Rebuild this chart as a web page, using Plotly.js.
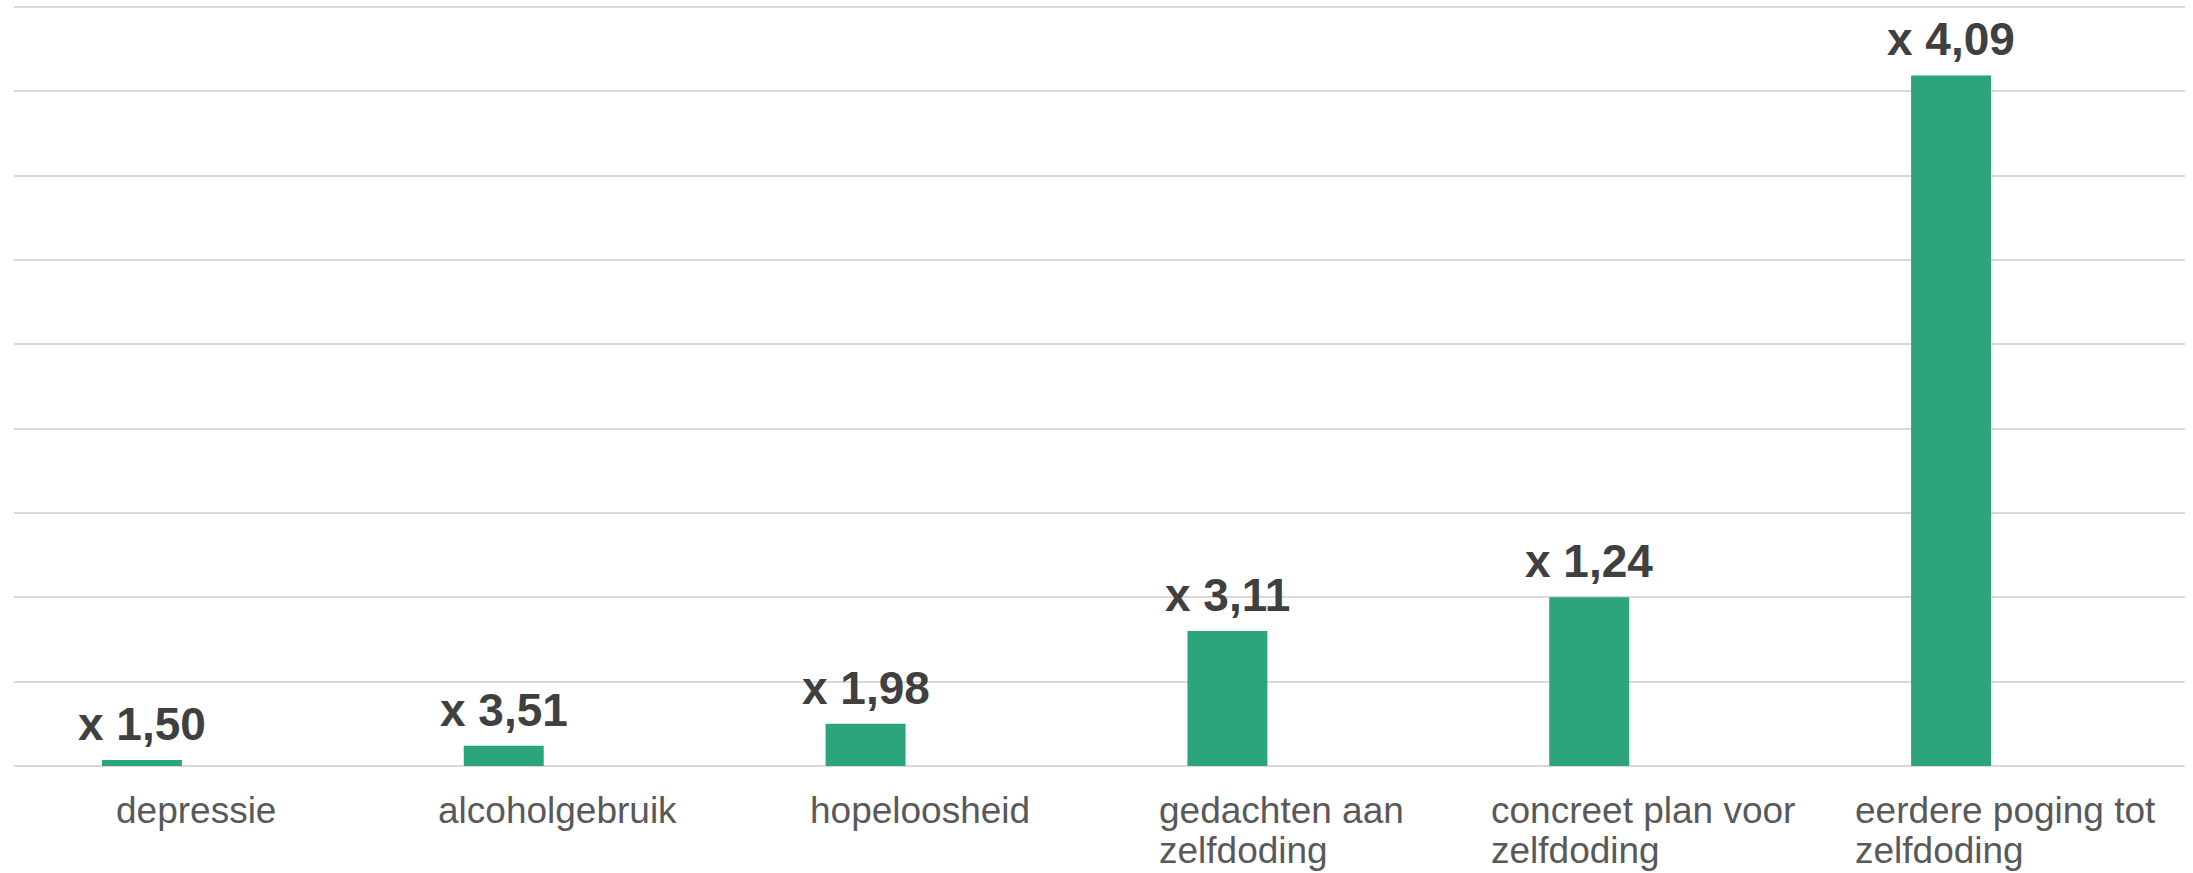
<!DOCTYPE html>
<html>
<head>
<meta charset="utf-8">
<script src="https://cdn.plot.ly/plotly-3.0.1.min.js"></script>
<style>
  html, body { margin: 0; padding: 0; background: #ffffff; }
  #chart { width: 2193px; height: 873px; }
</style>
</head>
<body>
<div id="chart"></div>
<script>
// Risk factors (x-axis categories); "<br>" marks a line break
const categories = [
  "depressie",
  "alcoholgebruik",
  "hopeloosheid",
  "gedachten aan<br>zelfdoding",
  "concreet plan voor<br>zelfdoding",
  "eerdere poging tot<br>zelfdoding"
];

// Bar heights
const barValues = [0.07, 0.24, 0.50, 1.60, 2.00, 8.19];

// Multiplier shown above each bar
const ratioLabels = ["x 1,50", "x 3,51", "x 1,98", "x 3,11", "x 1,24", "x 4,09"];

const BAR_WIDTH = 0.221;   // in category units
const BAR_OFFSET = -0.257; // bar sits left of the category centre
const FONT = "Arial, 'Liberation Sans', sans-serif";
const CAT_FONT_SIZE = 37;
const CAT_LINE_STEP = 40;  // px between lines of a category name
const CAT_FIRST_SHIFT = -23;

const bars = {
  type: "bar",
  x: categories,
  y: barValues,
  width: BAR_WIDTH,
  offset: BAR_OFFSET,
  marker: { color: "#2ca57a", line: { width: 0 } },
  hoverinfo: "x+y"
};

const annotations = [];

// multiplier labels centred above the bars
ratioLabels.forEach((txt, i) => {
  annotations.push({
    xref: "x", yref: "y",
    x: i + BAR_OFFSET + BAR_WIDTH / 2,
    y: barValues[i],
    text: txt,
    showarrow: false,
    xanchor: "center",
    yanchor: "bottom",
    yshift: 8,
    font: { family: FONT, size: 46, color: "#404040", weight: "bold" }
  });
});

// category names: each block is centred on its category, its lines left-aligned
const measure = document.createElement("canvas").getContext("2d");
measure.font = CAT_FONT_SIZE + "px " + FONT;
categories.forEach((name, i) => {
  const lines = name.split("<br>");
  const blockWidth = Math.max(...lines.map(l => measure.measureText(l).width));
  lines.forEach((line, k) => {
    annotations.push({
      xref: "x", yref: "y",
      x: i,
      y: 0,
      text: line,
      showarrow: false,
      xanchor: "left",
      yanchor: "top",
      xshift: -blockWidth / 2,
      yshift: CAT_FIRST_SHIFT - k * CAT_LINE_STEP,
      borderpad: 0,
      font: { family: FONT, size: CAT_FONT_SIZE, color: "#595959" }
    });
  });
});

const layout = {
  width: 2193,
  height: 873,
  margin: { l: 14, r: 8, t: 5, b: 107, pad: 0 },
  paper_bgcolor: "#ffffff",
  plot_bgcolor: "#ffffff",
  showlegend: false,
  font: { family: FONT },
  xaxis: {
    type: "category",
    showticklabels: false,
    ticks: "",
    showgrid: false,
    zeroline: false,
    showline: false,
    fixedrange: true
  },
  yaxis: {
    range: [0, 9.025],
    dtick: 1,
    tick0: 0,
    showticklabels: false,
    ticks: "",
    showgrid: true,
    gridcolor: "#d9d9d9",
    gridwidth: 2,
    zeroline: true,
    zerolinecolor: "#d9d9d9",
    zerolinewidth: 2,
    showline: false,
    fixedrange: true
  },
  annotations: annotations
};

Plotly.newPlot("chart", [bars], layout, { displayModeBar: false, staticPlot: true });
</script>
</body>
</html>
